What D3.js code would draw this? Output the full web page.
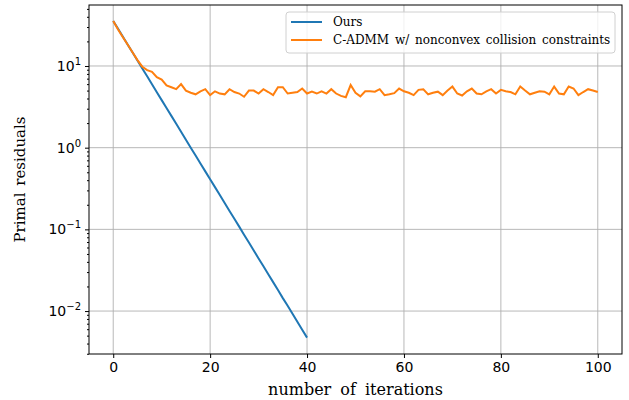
<!DOCTYPE html>
<html>
<head>
<meta charset="utf-8">
<script src="https://cdn.jsdelivr.net/npm/d3@7"></script>
<style>
  body { margin: 0; background: #fff; }
  svg { display: block; }
</style>
</head>
<body>
<div id="chart"></div>
<script>
// Data
const oursIters = d3.range(0, 41);
const oursValues = [35.6, 28.5, 22.8, 18.2, 14.6, 11.7, 9.33, 7.47, 5.97, 4.78,
  3.82, 3.06, 2.45, 1.96, 1.57, 1.25, 1.00, 0.802, 0.642, 0.513,
  0.411, 0.329, 0.263, 0.210, 0.168, 0.135, 0.108, 0.0861, 0.0689, 0.0551,
  0.0441, 0.0353, 0.0282, 0.0226, 0.0181, 0.0144, 0.0116, 0.00924, 0.00739, 0.00591,
  0.00473];

const admmIters = d3.range(0, 101);
const admmValues = [35.6, 28.0, 22.5, 18.2, 14.6, 11.8, 9.8, 8.9, 8.5, 7.3,
  6.8, 5.8, 5.5, 5.2, 6.0, 5.0, 4.7, 4.5, 4.9, 5.2,
  4.4, 4.9, 4.6, 4.5, 5.2, 4.8, 4.6, 4.2, 5.0, 5.0,
  4.6, 5.2, 4.8, 4.4, 5.5, 5.5, 4.6, 4.7, 4.8, 5.3,
  4.6, 4.85, 4.6, 4.9, 4.6, 5.2, 4.6, 4.3, 4.15, 5.85,
  4.7, 4.25, 4.9, 4.9, 4.85, 5.2, 4.4, 4.5, 4.65, 5.3,
  4.9, 4.7, 4.4, 5.1, 5.2, 4.5, 4.7, 4.85, 4.4, 5.0,
  5.6, 4.6, 4.35, 4.9, 5.3, 4.6, 4.5, 4.9, 5.2, 4.6,
  5.1, 4.9, 4.8, 4.5, 5.6, 5.0, 4.5, 4.7, 4.9, 4.85,
  4.5, 5.6, 4.6, 4.5, 5.6, 5.3, 4.4, 4.8, 5.2, 5.0,
  4.8];

const seriesNames = ["Ours", "C-ADMM w/ nonconvex collision constraints"];
const seriesColors = ["#1f77b4", "#ff7f0e"];
const xTicks = [0, 20, 40, 60, 80, 100];
const yTickExps = [-2, -1, 0, 1];

// Setting the dimensions for the graph
var margin = {top: 5, right: 7, bottom: 46, left: 89},
    width = 629 - margin.left - margin.right,
    height = 400 - margin.top - margin.bottom;

var svg = d3.select("#chart")
    .append("svg")
    .attr("width", 629)
    .attr("height", 400)
    .append("g")
    .attr("transform", `translate(${margin.left},${margin.top})`);

var x = d3.scaleLinear()
    .domain([-5, 105])
    .range([0, width]);

var y = d3.scaleLog()
    .domain([0.00298, 55.8])
    .range([height, 0]);

// Grid lines
svg.append("g")
    .selectAll("line")
    .data(xTicks)
    .join("line")
    .attr("x1", d => x(d)).attr("x2", d => x(d))
    .attr("y1", 0).attr("y2", height)
    .attr("stroke", "#b0b0b0")
    .attr("stroke-width", 0.9);

svg.append("g")
    .selectAll("line")
    .data(yTickExps)
    .join("line")
    .attr("x1", 0).attr("x2", width)
    .attr("y1", d => y(Math.pow(10, d))).attr("y2", d => y(Math.pow(10, d)))
    .attr("stroke", "#b0b0b0")
    .attr("stroke-width", 0.9);

// Lines
var line = d3.line()
    .x(d => x(d[0]))
    .y(d => y(d[1]));

svg.append("path")
    .datum(oursIters.map((it, i) => [it, oursValues[i]]))
    .attr("fill", "none")
    .attr("stroke", seriesColors[0])
    .attr("stroke-width", 2)
    .attr("d", line);

svg.append("path")
    .datum(admmIters.map((it, i) => [it, admmValues[i]]))
    .attr("fill", "none")
    .attr("stroke", seriesColors[1])
    .attr("stroke-width", 2)
    .attr("d", line);

// X axis
var xAxis = svg.append("g")
    .attr("transform", `translate(0,${height})`)
    .call(d3.axisBottom(x).tickValues(xTicks).tickSize(4).tickPadding(4));
xAxis.select(".domain").remove();
xAxis.selectAll("text")
    .style("font-family", "DejaVu Sans")
    .style("font-size", "14px")
    .attr("fill", "#000");

// Y axis, major ticks with superscript labels
var minorTicks = [];
for (var e = -3; e <= 1; e++) {
  for (var m = 2; m <= 9; m++) {
    var v = m * Math.pow(10, e);
    if (v >= y.domain()[0] && v <= y.domain()[1]) minorTicks.push(v);
  }
}

var yAxis = svg.append("g")
    .call(d3.axisLeft(y).tickValues(yTickExps.map(d => Math.pow(10, d))).tickSize(4).tickFormat(""));
yAxis.select(".domain").remove();

svg.append("g")
    .call(d3.axisLeft(y).tickValues(minorTicks).tickSize(2).tickFormat(""))
    .select(".domain").remove();

var yLabels = svg.append("g")
    .selectAll("text")
    .data(yTickExps)
    .join("text")
    .attr("x", -8)
    .attr("y", d => y(Math.pow(10, d)) + 5)
    .attr("text-anchor", "end")
    .style("font-family", "DejaVu Sans")
    .style("font-size", "14px");
yLabels.append("tspan").text("10");
yLabels.append("tspan")
    .attr("dy", -6)
    .style("font-size", "10px")
    .text(d => d < 0 ? "\u2212" + Math.abs(d) : d);

// Frame
svg.append("rect")
    .attr("width", width)
    .attr("height", height)
    .attr("fill", "none")
    .attr("stroke", "#000")
    .attr("stroke-width", 1);

// Legend
var legend = svg.append("g")
    .attr("transform", `translate(${286 - margin.left},${12 - margin.top})`);

legend.append("rect")
    .attr("width", 329)
    .attr("height", 41)
    .attr("rx", 3)
    .attr("fill", "#fff")
    .attr("fill-opacity", 0.8)
    .attr("stroke", "#d0d0d0");

seriesNames.forEach((name, i) => {
  legend.append("line")
      .attr("x1", 5).attr("x2", 36)
      .attr("y1", 10 + i * 18).attr("y2", 10 + i * 18)
      .attr("stroke", seriesColors[i])
      .attr("stroke-width", 2);
  legend.append("text")
      .attr("x", 47)
      .attr("y", 14 + i * 18)
      .style("font-family", "DejaVu Serif")
      .style("font-size", "12px")
      .style("word-spacing", "2px")
      .text(name);
});

// Axis labels
svg.append("text")
    .attr("x", width / 2)
    .attr("y", height + 41)
    .attr("text-anchor", "middle")
    .style("font-family", "DejaVu Serif")
    .style("font-size", "16px")
    .style("word-spacing", "4px")
    .text("number of iterations");

svg.append("text")
    .attr("transform", "rotate(-90)")
    .attr("x", -height / 2)
    .attr("y", -64)
    .attr("text-anchor", "middle")
    .style("font-family", "DejaVu Serif")
    .style("font-size", "15px")
    .style("word-spacing", "2px")
    .text("Primal residuals");
</script>
</body>
</html>
